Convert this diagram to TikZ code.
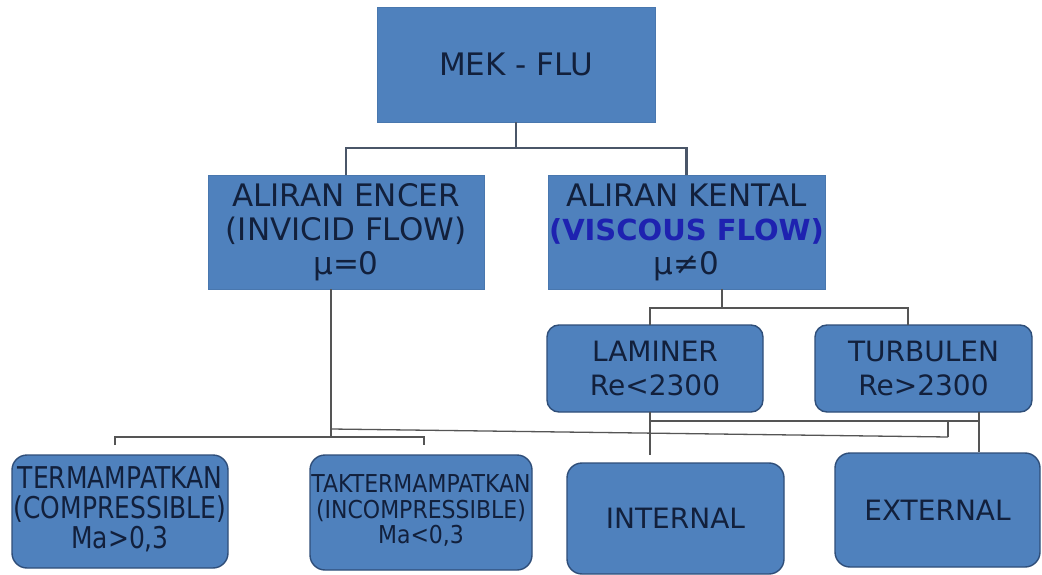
\documentclass[tikz,border=0pt]{standalone}
\usepackage{fontspec}
\usepackage{graphicx}
\setmainfont{DejaVu Sans}
\definecolor{boxfill}{HTML}{4F81BD}
\definecolor{boxedge}{HTML}{2F4E79}
\definecolor{txt}{HTML}{12203C}
\definecolor{visc}{HTML}{1E22B0}
\definecolor{lnA}{HTML}{4A5668}
\definecolor{lnB}{HTML}{555555}
\newcommand{\stretchtext}[2]{\scalebox{1}[#1]{\begin{tabular}{@{}c@{}}#2\end{tabular}}}
\begin{document}
\begin{tikzpicture}[x=1pt,y=-1pt,
  sqbox/.style={fill=boxfill, draw=boxfill!92!black, line width=0.6pt, inner sep=0pt, align=center, text=txt},
  rbox/.style={fill=boxfill, draw=boxedge, line width=1.4pt, rounded corners=15pt, inner sep=0pt, align=center, text=txt},
  topln/.style={draw=lnA, line width=2.2pt},
  lowln/.style={draw=lnB, line width=1.3pt}]
\useasboundingbox[fill=white] (0,0) rectangle (1042,575);

% boxes
\node[sqbox, minimum width=278pt, minimum height=115pt, font=\fontsize{31}{36}\selectfont] (mek) at (516,64.5) {MEK - FLU};
\node[sqbox, minimum width=276pt, minimum height=114pt, font=\fontsize{31}{34}\selectfont] (encer) at (346,232) {ALIRAN ENCER\\(INVICID FLOW)\\μ=0};
\node[sqbox, minimum width=277pt, minimum height=114pt, font=\fontsize{31}{34}\selectfont] (kental) at (686.5,232) {ALIRAN KENTAL\\{\color{visc}\bfseries\fontsize{29}{34}\selectfont (VISCOUS FLOW)}\\μ≠0};
\node[rbox, rounded corners=12pt, minimum width=216pt, minimum height=87pt, font=\fontsize{28}{34}\selectfont] (laminer) at (655,368.5) {LAMINER\\Re<2300};
\node[rbox, rounded corners=12pt, minimum width=217pt, minimum height=87pt, font=\fontsize{28}{34}\selectfont] (turbulen) at (923.5,368.5) {TURBULEN\\Re>2300};
\node[rbox, minimum width=216pt, minimum height=113pt, font=\fontsize{25}{21.7}\selectfont] (term) at (120,511.5) {\stretchtext{1.2}{TERMAMPATKAN\\(COMPRESSIBLE)\\Ma>0,3}};
\node[rbox, minimum width=222pt, minimum height=115pt, font=\fontsize{22}{21.8}\selectfont] (takterm) at (421,512.5) {\stretchtext{1.12}{TAKTERMAMPATKAN\\(INCOMPRESSIBLE)\\Ma<0,3}};
\node[rbox, minimum width=217pt, minimum height=111pt, font=\fontsize{28}{34}\selectfont] (internal) at (675.5,518.5) {INTERNAL};
\node[rbox, minimum width=205pt, minimum height=114pt, font=\fontsize{28}{34}\selectfont] (external) at (937.5,510) {EXTERNAL};

% top connectors
\coordinate (mbar) at (516,148);
\draw[topln] (mek.south) -- (mbar);
\draw[topln] (encer.north) -- (encer.north |- mbar) -- (kental.north |- mbar) -- (kental.north);

% kental to laminer / turbulen
\coordinate (kdown) at (722,308);
\coordinate (lamin) at (650,325);
\coordinate (turin) at (908,325);
\draw[lowln] (kdown |- kental.south) -- (kdown);
\draw[lowln] (lamin) -- (lamin |- kdown) -- (turin |- kdown) -- (turin);

% laminer / turbulen to internal / external
\coordinate (lamout) at (650,412);
\coordinate (intin) at (650,455);
\coordinate (turout) at (979,412);
\coordinate (extin) at (979,453);
\coordinate (jbar) at (650,421);
\coordinate (jdrop) at (948,421);
\coordinate (jlow) at (948,437);
\draw[lowln] (lamout) -- (intin);
\draw[lowln] (turout) -- (extin |- external.north);
\draw[lowln] (jbar) -- (turout |- jbar);
\draw[lowln] (jdrop) -- (jlow);

% encer to lower row
\coordinate (edown) at (331,437);
\coordinate (ejoin) at (331,429);
\draw[lowln] (edown |- encer.south) -- (edown);
\draw[lowln] (jlow) -- (ejoin);
\coordinate (tl) at (115,445);
\coordinate (tr) at (424,445);
\draw[lowln] (tl) -- (115,437) -- (424,437) -- (tr);
\end{tikzpicture}
\end{document}
